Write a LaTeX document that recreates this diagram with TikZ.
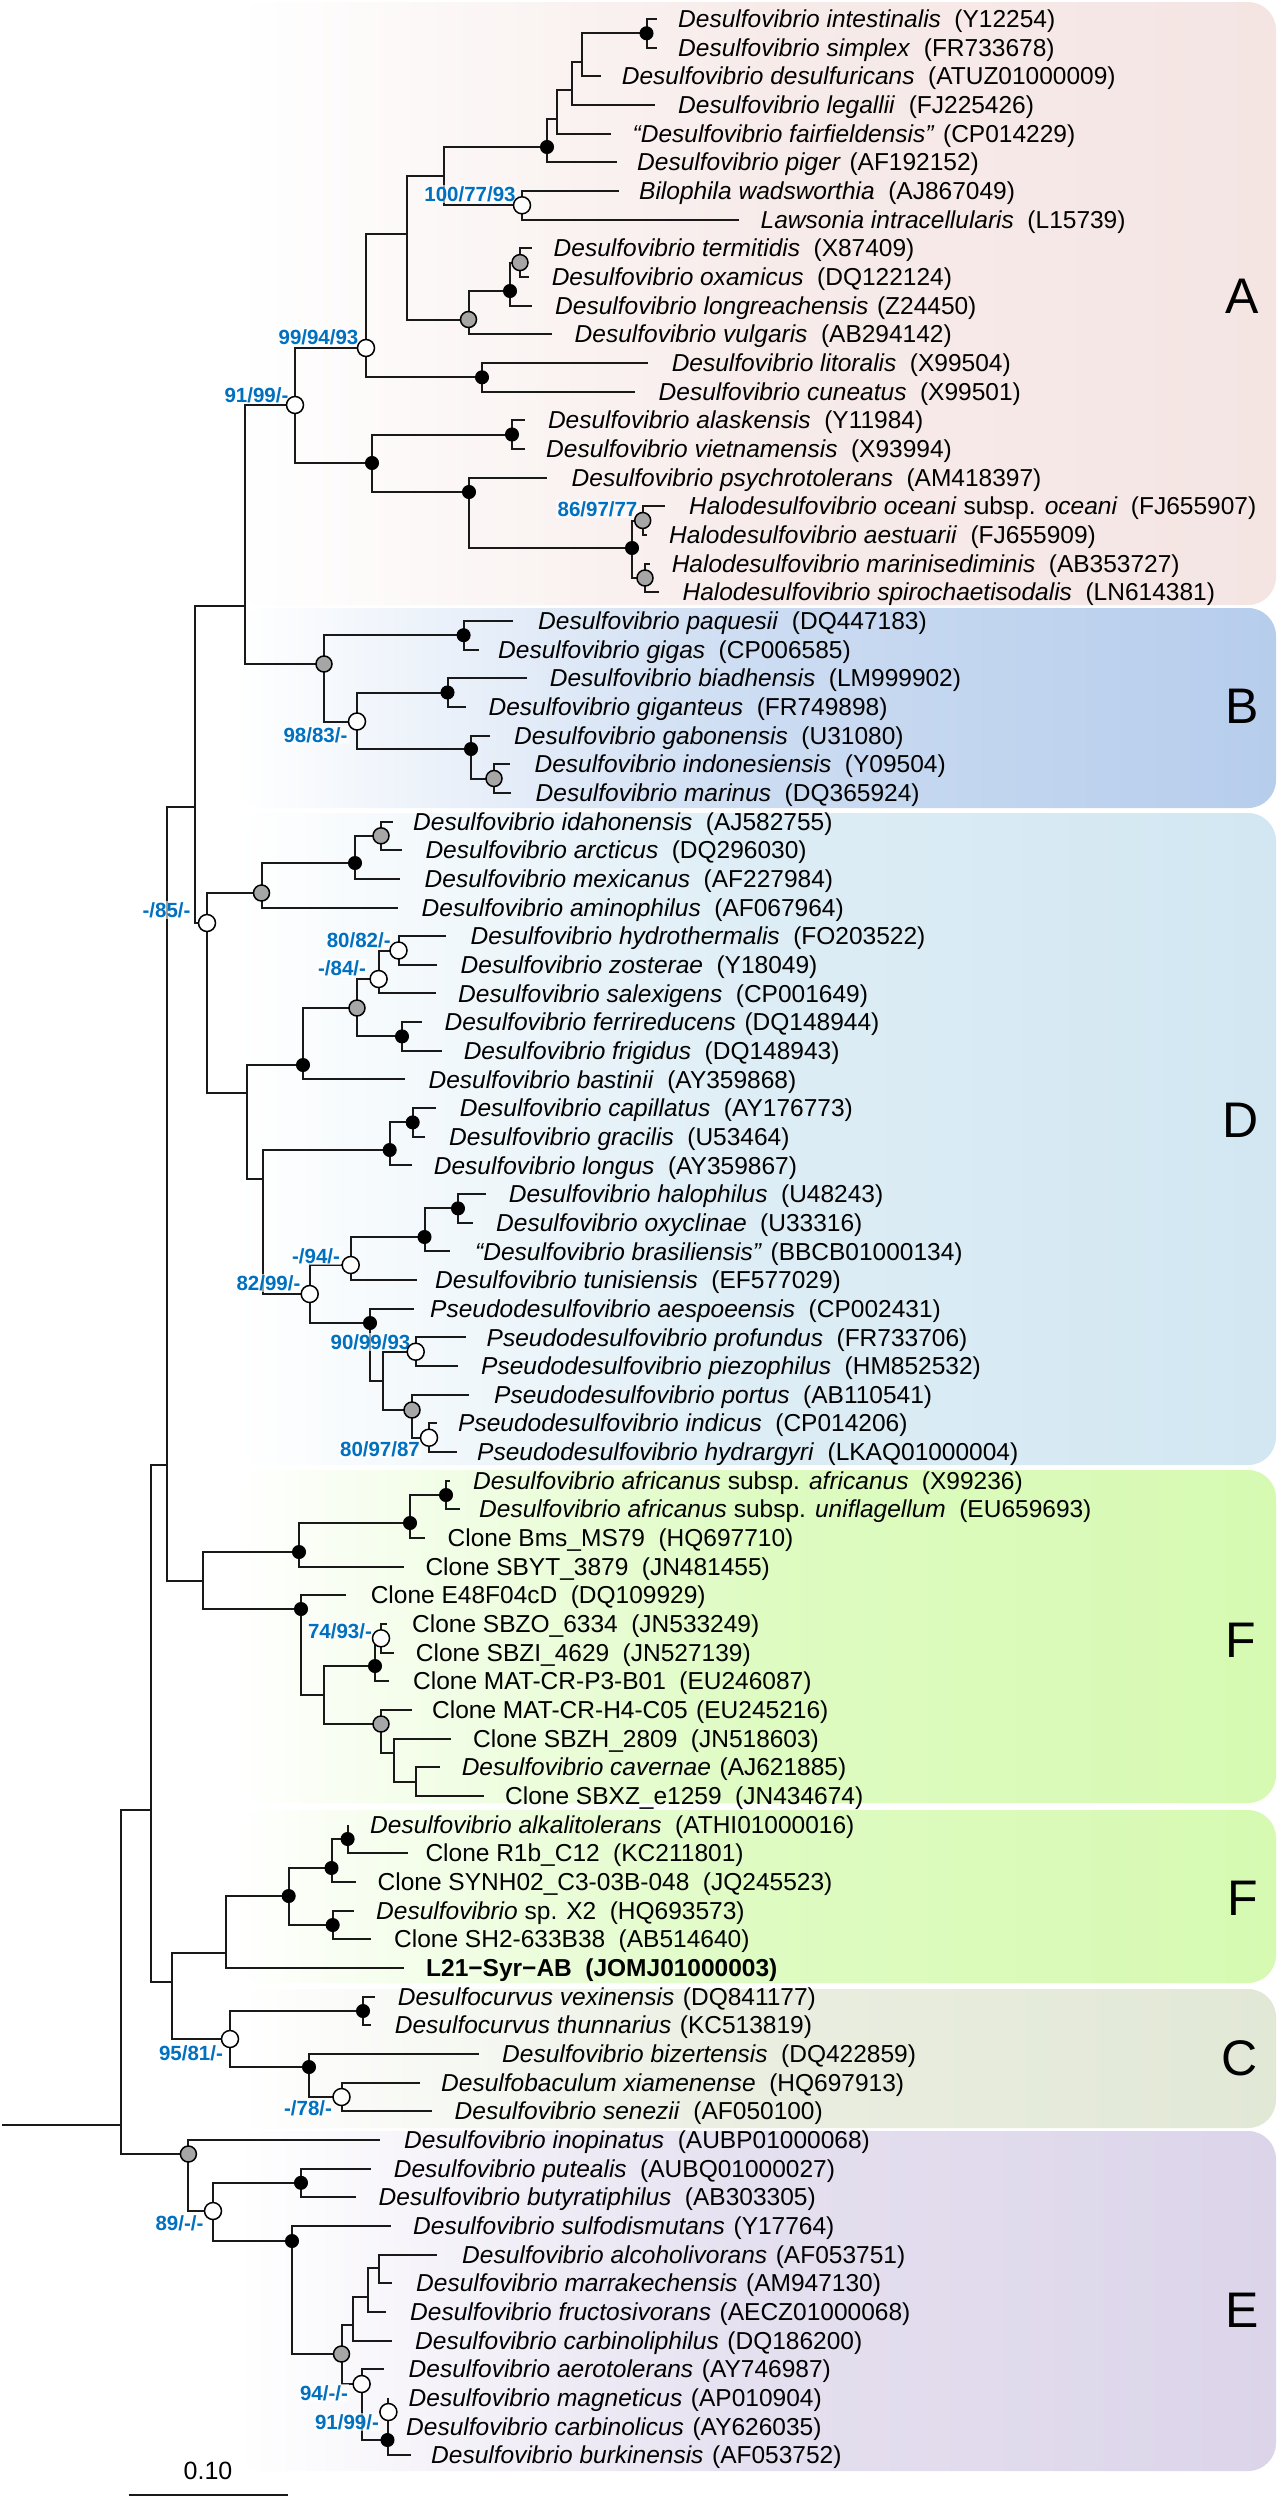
\documentclass[tikz,border=0pt]{standalone}
\usepackage{fontspec}
\setmainfont{Liberation Sans}
\definecolor{bsblue}{RGB}{0,112,192}
\definecolor{cA}{RGB}{244,229,227}
\definecolor{cB}{RGB}{182,205,236}
\definecolor{cD}{RGB}{210,231,242}
\definecolor{cF}{RGB}{214,250,178}
\definecolor{cC}{RGB}{226,232,214}
\definecolor{cE}{RGB}{220,213,234}
\definecolor{nodegrey}{RGB}{166,166,166}
\newcommand\tax[2]{\textit{#1}\hspace{.55em}(#2)}
\newcommand\taxs[2]{\textit{#1}\hspace{.35em}(#2)}
\newcommand\cln[2]{Clone #1\hspace{.55em}(#2)}
\begin{document}
\begin{tikzpicture}[x=1pt,y=-1pt,
  br/.style={draw=black!90, line width=2pt},
  blk/.style={circle, fill=black, draw=black, line width=1pt, minimum size=13pt, inner sep=0pt},
  gry/.style={circle, fill=nodegrey, draw=black, line width=1.5pt, minimum size=16pt, inner sep=0pt},
  wht/.style={circle, fill=white, draw=black, line width=1.5pt, minimum size=17pt, inner sep=0pt},
  lab/.style={anchor=base west, inner sep=0pt, yshift=-8.6pt, font=\fontsize{24.5}{28}\selectfont},
  bs/.style={anchor=center, inner sep=1.5pt, text height=15pt, text depth=0pt, fill=white, fill opacity=0.6, text opacity=1, text=bsblue, font=\fontsize{20.5}{24}\selectfont\bfseries},
  clade/.style={font=\fontsize{50}{56}\selectfont},
  box/.style={rounded corners=28pt},
]
\useasboundingbox (0,0) rectangle (1280,2500);
\fill[white] (0,0) rectangle (1280,2500);
% clade boxes
\shade[box, left color=white, right color=cA, middle color=cA!75!white] (236,2) rectangle (1276,605);
\shade[box, left color=white, right color=cB, middle color=cB!70!white] (236,608) rectangle (1276,808);
\shade[box, left color=white, right color=cD, middle color=cD!75!white] (236,813) rectangle (1276,1465);
\shade[box, left color=white, right color=cF, middle color=cF!80!white] (236,1470) rectangle (1276,1803);
\shade[box, left color=white, right color=cF, middle color=cF!80!white] (236,1810) rectangle (1276,1983);
\shade[box, left color=white, right color=cC, middle color=cC!75!white] (236,1989) rectangle (1276,2128);
\shade[box, left color=white, right color=cE, middle color=cE!75!white] (236,2131) rectangle (1276,2471);
\node[clade] (cla) at (1242,296) {A};
\node[clade] (clb) at (1242,706) {B};
\node[clade] (cld) at (1241,1120) {D};
\node[clade] (clf1) at (1241,1640) {F};
\node[clade] (clf2) at (1243,1898) {F};
\node[clade] (clc) at (1240,2058) {C};
\node[clade] (cle) at (1242,2310) {E};
% internal nodes
\coordinate (r0) at (2,2125);
\coordinate (root) at (121.4,2125);
\coordinate (nBig1) at (151,1810);
\coordinate (n167) at (167,1465);
\coordinate (n172) at (172,1982);
\coordinate (n194) at (194.5,807);
\coordinate (nF1) at (203,1581);
\coordinate (n245) at (245,606);
\coordinate (nD) at (207,923);
\coordinate (nA91) at (295,405);
\coordinate (nB) at (324,664);
\coordinate (nA99) at (366,348);
\coordinate (nA2) at (372,463);
\coordinate (n407) at (407,234);
\coordinate (nlit) at (482,377.3);
\coordinate (n444) at (444,176);
\coordinate (nvul) at (468.5,319.5);
\coordinate (npig) at (547,147);
\coordinate (nBil) at (522,205.3);
\coordinate (n557) at (557,119);
\coordinate (n572) at (572,90);
\coordinate (n582) at (582,62);
\coordinate (nint) at (646.5,33.3);
\coordinate (nlon) at (510,291);
\coordinate (nter) at (520,262.6);
\coordinate (nala) at (512,434.5);
\coordinate (npsy) at (469,492);
\coordinate (nHal) at (632,548);
\coordinate (nHo) at (642.7,520.5);
\coordinate (nHm) at (645,578);
\coordinate (npaq) at (463.6,635.2);
\coordinate (nB2) at (357,721.5);
\coordinate (nbia) at (447.5,692.5);
\coordinate (ngab) at (471,749);
\coordinate (nind) at (494,778.5);
\coordinate (nD1) at (261.5,893);
\coordinate (nmex) at (355,863);
\coordinate (nida) at (381,835.8);
\coordinate (nD2) at (247,1093);
\coordinate (nbas) at (303,1065);
\coordinate (nsal) at (357,1008);
\coordinate (n84) at (378.6,979);
\coordinate (n80) at (398.5,950.5);
\coordinate (nfer) at (402,1036.4);
\coordinate (nD3) at (262.6,1179);
\coordinate (ncap) at (389.7,1150);
\coordinate (ncg) at (412.7,1122.4);
\coordinate (n82) at (309.7,1294);
\coordinate (n94) at (350.7,1265);
\coordinate (nhal) at (424.5,1237);
\coordinate (nhalo) at (458,1208.4);
\coordinate (naes) at (370,1323);
\coordinate (n383) at (383,1381);
\coordinate (n90) at (415.7,1351.7);
\coordinate (nport) at (412,1410);
\coordinate (n80b) at (429,1437.7);
\coordinate (nsbyt) at (299,1552);
\coordinate (nbms) at (410,1523);
\coordinate (nafr) at (446,1495);
\coordinate (ne48) at (301,1609);
\coordinate (n324) at (324,1695);
\coordinate (nmat) at (375,1666);
\coordinate (n74) at (381,1638.3);
\coordinate (nh4) at (381,1724);
\coordinate (n394) at (394,1753);
\coordinate (n415) at (415.7,1781.6);
\coordinate (n226) at (226,1953);
\coordinate (nF2) at (288.7,1896);
\coordinate (nsyn) at (331.5,1868);
\coordinate (nalk) at (347.6,1839);
\coordinate (nx2) at (332.7,1925);
\coordinate (nC) at (230,2039);
\coordinate (nvex) at (363,2011);
\coordinate (nbiz) at (309,2067);
\coordinate (n78) at (341.5,2097);
\coordinate (nE) at (188.4,2154);
\coordinate (n89) at (213,2211);
\coordinate (nput) at (301,2182.8);
\coordinate (nsul) at (292,2241);
\coordinate (ngE) at (341.5,2354);
\coordinate (n352) at (352.7,2325);
\coordinate (n368) at (368,2297);
\coordinate (n378) at (378.6,2268);
\coordinate (n94E) at (361.6,2384);
\coordinate (nbur) at (387.5,2440);
\coordinate (n91E) at (388.4,2412);
% leaf tips
\coordinate (l1) at (657,19.0);
\coordinate (l2) at (657,47.7);
\coordinate (l3) at (600.6,76.3);
\coordinate (l4) at (655,105.0);
\coordinate (l5) at (611,133.6);
\coordinate (l6) at (617,162.3);
\coordinate (l7) at (618.6,191.0);
\coordinate (l8) at (739,219.6);
\coordinate (l9) at (532,248.3);
\coordinate (l10) at (529,276.9);
\coordinate (l11) at (532,305.6);
\coordinate (l12) at (551.6,334.3);
\coordinate (l13) at (648,362.9);
\coordinate (l14) at (635,391.6);
\coordinate (l15) at (525,420.2);
\coordinate (l16) at (525,448.9);
\coordinate (l17) at (547,477.6);
\coordinate (l18) at (664.5,506.2);
\coordinate (l19) at (647,534.9);
\coordinate (l20) at (649.5,563.5);
\coordinate (l21) at (659,592.2);
\coordinate (l22) at (512.5,620.9);
\coordinate (l23) at (479,649.5);
\coordinate (l24) at (527,678.2);
\coordinate (l25) at (465.5,706.8);
\coordinate (l26) at (490,735.5);
\coordinate (l27) at (509.5,764.2);
\coordinate (l28) at (511,792.8);
\coordinate (l29) at (393,821.5);
\coordinate (l30) at (401.6,850.1);
\coordinate (l31) at (400,878.8);
\coordinate (l32) at (398,907.5);
\coordinate (l33) at (446,936.1);
\coordinate (l34) at (437,964.8);
\coordinate (l35) at (436,993.4);
\coordinate (l36) at (421.5,1022.1);
\coordinate (l37) at (441.7,1050.8);
\coordinate (l38) at (405,1079.4);
\coordinate (l39) at (436,1108.1);
\coordinate (l40) at (424.5,1136.7);
\coordinate (l41) at (412,1165.4);
\coordinate (l42) at (486,1194.1);
\coordinate (l43) at (473,1222.7);
\coordinate (l44) at (450,1251.4);
\coordinate (l45) at (417,1280.0);
\coordinate (l46) at (414,1308.7);
\coordinate (l47) at (465.5,1337.4);
\coordinate (l48) at (458,1366.0);
\coordinate (l49) at (469,1394.7);
\coordinate (l50) at (437,1423.3);
\coordinate (l51) at (456.7,1452.0);
\coordinate (l52) at (450,1480.7);
\coordinate (l53) at (460,1509.3);
\coordinate (l54) at (424.5,1538.0);
\coordinate (l55) at (404,1566.6);
\coordinate (l56) at (345.7,1595.3);
\coordinate (l57) at (387,1624.0);
\coordinate (l58) at (394,1652.6);
\coordinate (l59) at (389,1681.3);
\coordinate (l60) at (412,1709.9);
\coordinate (l61) at (451,1738.6);
\coordinate (l62) at (440,1767.3);
\coordinate (l63) at (484,1795.9);
\coordinate (l64) at (347.6,1824.6);
\coordinate (l65) at (408,1853.2);
\coordinate (l66) at (355.6,1881.9);
\coordinate (l67) at (353.7,1910.6);
\coordinate (l68) at (371,1939.2);
\coordinate (l69) at (403.5,1967.9);
\coordinate (l70) at (375,1996.5);
\coordinate (l71) at (371,2025.2);
\coordinate (l72) at (478.5,2053.9);
\coordinate (l73) at (419.6,2082.5);
\coordinate (l74) at (432,2111.2);
\coordinate (l75) at (380,2139.8);
\coordinate (l76) at (371,2168.5);
\coordinate (l77) at (356,2197.2);
\coordinate (l78) at (390.6,2225.8);
\coordinate (l79) at (436.6,2254.5);
\coordinate (l80) at (392,2283.1);
\coordinate (l81) at (386,2311.8);
\coordinate (l82) at (391.5,2340.5);
\coordinate (l83) at (384,2369.1);
\coordinate (l84) at (388.4,2397.8);
\coordinate (l85) at (388.4,2426.4);
\coordinate (l86) at (410.7,2455.1);
% branches
\draw[br] (r0) -- (root);
\draw[br] (root) |- (nBig1) (root) |- (nE);
\draw[br] (nBig1) |- (n167) (nBig1) |- (n172);
\draw[br] (n167) |- (n194) (n167) |- (nF1);
\draw[br] (n194) |- (n245) (n194) |- (nD);
\draw[br] (n245) |- (nA91) (n245) |- (nB);
\draw[br] (nA91) |- (nA99) (nA91) |- (nA2);
\draw[br] (nA99) |- (n407) (nA99) |- (nlit);
\draw[br] (n407) |- (n444) (n407) |- (nvul);
\draw[br] (n444) |- (npig) (n444) |- (nBil);
\draw[br] (npig) |- (n557) (npig) |- (l6);
\draw[br] (n557) |- (n572) (n557) |- (l5);
\draw[br] (n572) |- (n582) (n572) |- (l4);
\draw[br] (n582) |- (nint) (n582) |- (l3);
\draw[br] (nint) |- (l1) (nint) |- (l2);
\draw[br] (nBil) |- (l7) (nBil) |- (l8);
\draw[br] (nvul) |- (nlon) (nvul) |- (l12);
\draw[br] (nlon) |- (nter) (nlon) |- (l11);
\draw[br] (nter) |- (l9) (nter) |- (l10);
\draw[br] (nlit) |- (l13) (nlit) |- (l14);
\draw[br] (nA2) |- (nala) (nA2) |- (npsy);
\draw[br] (nala) |- (l15) (nala) |- (l16);
\draw[br] (npsy) |- (l17) (npsy) |- (nHal);
\draw[br] (nHal) |- (nHo) (nHal) |- (nHm);
\draw[br] (nHo) |- (l18) (nHo) |- (l19);
\draw[br] (nHm) |- (l20) (nHm) |- (l21);
\draw[br] (nB) |- (npaq) (nB) |- (nB2);
\draw[br] (npaq) |- (l22) (npaq) |- (l23);
\draw[br] (nB2) |- (nbia) (nB2) |- (ngab);
\draw[br] (nbia) |- (l24) (nbia) |- (l25);
\draw[br] (ngab) |- (l26) (ngab) |- (nind);
\draw[br] (nind) |- (l27) (nind) |- (l28);
\draw[br] (nD) |- (nD1) (nD) |- (nD2);
\draw[br] (nD1) |- (nmex) (nD1) |- (l32);
\draw[br] (nmex) |- (nida) (nmex) |- (l31);
\draw[br] (nida) |- (l29) (nida) |- (l30);
\draw[br] (nD2) |- (nbas) (nD2) |- (nD3);
\draw[br] (nbas) |- (nsal) (nbas) |- (l38);
\draw[br] (nsal) |- (n84) (nsal) |- (nfer);
\draw[br] (n84) |- (n80) (n84) |- (l35);
\draw[br] (n80) |- (l33) (n80) |- (l34);
\draw[br] (nfer) |- (l36) (nfer) |- (l37);
\draw[br] (nD3) |- (ncap) (nD3) |- (n82);
\draw[br] (ncap) |- (ncg) (ncap) |- (l41);
\draw[br] (ncg) |- (l39) (ncg) |- (l40);
\draw[br] (n82) |- (n94) (n82) |- (naes);
\draw[br] (n94) |- (nhal) (n94) |- (l45);
\draw[br] (nhal) |- (nhalo) (nhal) |- (l44);
\draw[br] (nhalo) |- (l42) (nhalo) |- (l43);
\draw[br] (naes) |- (l46) (naes) |- (n383);
\draw[br] (n383) |- (n90) (n383) |- (nport);
\draw[br] (n90) |- (l47) (n90) |- (l48);
\draw[br] (nport) |- (l49) (nport) |- (n80b);
\draw[br] (n80b) |- (l50) (n80b) |- (l51);
\draw[br] (nF1) |- (nsbyt) (nF1) |- (ne48);
\draw[br] (nsbyt) |- (nbms) (nsbyt) |- (l55);
\draw[br] (nbms) |- (nafr) (nbms) |- (l54);
\draw[br] (nafr) |- (l52) (nafr) |- (l53);
\draw[br] (ne48) |- (l56) (ne48) |- (n324);
\draw[br] (n324) |- (nmat) (n324) |- (nh4);
\draw[br] (nmat) |- (n74) (nmat) |- (l59);
\draw[br] (n74) |- (l57) (n74) |- (l58);
\draw[br] (nh4) |- (l60) (nh4) |- (n394);
\draw[br] (n394) |- (l61) (n394) |- (n415);
\draw[br] (n415) |- (l62) (n415) |- (l63);
\draw[br] (n172) |- (n226) (n172) |- (nC);
\draw[br] (n226) |- (nF2) (n226) |- (l69);
\draw[br] (nF2) |- (nsyn) (nF2) |- (nx2);
\draw[br] (nsyn) |- (nalk) (nsyn) |- (l66);
\draw[br] (nalk) |- (l64) (nalk) |- (l65);
\draw[br] (nx2) |- (l67) (nx2) |- (l68);
\draw[br] (nC) |- (nvex) (nC) |- (nbiz);
\draw[br] (nvex) |- (l70) (nvex) |- (l71);
\draw[br] (nbiz) |- (l72) (nbiz) |- (n78);
\draw[br] (n78) |- (l73) (n78) |- (l74);
\draw[br] (nE) |- (l75) (nE) |- (n89);
\draw[br] (n89) |- (nput) (n89) |- (nsul);
\draw[br] (nput) |- (l76) (nput) |- (l77);
\draw[br] (nsul) |- (l78) (nsul) |- (ngE);
\draw[br] (ngE) |- (n352) (ngE) |- (n94E);
\draw[br] (n352) |- (n368) (n352) |- (l82);
\draw[br] (n368) |- (n378) (n368) |- (l81);
\draw[br] (n378) |- (l79) (n378) |- (l80);
\draw[br] (n94E) |- (l83) (n94E) |- (nbur);
\draw[br] (nbur) |- (n91E) (nbur) |- (l86);
\draw[br] (n91E) |- (l84) (n91E) |- (l85);
% bootstrap labels
\node[bs] (b1) at (470,194) {100/77/93};
\node[bs] (b2) at (318.5,337) {99/94/93};
\node[bs] (b3) at (256.5,395) {91/99/-};
\node[bs] (b4) at (597.5,509) {86/97/77};
\node[bs] (b5) at (315.5,735) {98/83/-};
\node[bs] (b6) at (166.5,910) {-/85/-};
\node[bs] (b7) at (358.7,940) {80/82/-};
\node[bs] (b8) at (342,968) {-/84/-};
\node[bs] (b9) at (316,1256) {-/94/-};
\node[bs] (b10) at (268.5,1283) {82/99/-};
\node[bs] (b11) at (370.5,1342) {90/99/93};
\node[bs] (b12) at (380,1449) {80/97/87};
\node[bs] (b13) at (340,1631) {74/93/-};
\node[bs] (b14) at (191,2053) {95/81/-};
\node[bs] (b15) at (308,2108) {-/78/-};
\node[bs] (b16) at (179.5,2223) {89/-/-};
\node[bs] (b17) at (324,2393) {94/-/-};
\node[bs] (b18) at (347,2422) {91/99/-};
% node circles
\foreach \n in {nint,npig,nlon,nlit,nA2,nala,npsy,nHal,npaq,nbia,ngab,nmex,nbas,nfer,ncap,ncg,nhal,nhalo,naes,nsbyt,nbms,nafr,ne48,nmat,nF2,nsyn,nalk,nx2,nvex,nbiz,nput,nsul,nbur}
  \node[blk] at (\n) {};
\foreach \n in {nvul,nter,nHo,nHm,nB,nind,nD1,nida,nsal,nport,nh4,nE,ngE}
  \node[gry] at (\n) {};
\foreach \n in {nBil,nA99,nA91,nB2,nD,n84,n80,n82,n94,n90,n80b,n74,nC,n78,n89,n94E,n91E}
  \node[wht] at (\n) {};
% leaf labels
\node[lab] (t1) at (678,19.0) {\tax{Desulfovibrio intestinalis}{Y12254}};
\node[lab] (t2) at (678,47.7) {\tax{Desulfovibrio simplex}{FR733678}};
\node[lab] (t3) at (621.7,76.3) {\tax{Desulfovibrio desulfuricans}{ATUZ01000009}};
\node[lab] (t4) at (678,105.0) {\tax{Desulfovibrio legallii}{FJ225426}};
\node[lab] (t5) at (632.5,133.6) {\taxs{“Desulfovibrio fairfieldensis”}{CP014229}};
\node[lab] (t6) at (637,162.3) {\taxs{Desulfovibrio piger}{AF192152}};
\node[lab] (t7) at (639,191.0) {\tax{Bilophila wadsworthia}{AJ867049}};
\node[lab] (t8) at (760.5,219.6) {\tax{Lawsonia intracellularis}{L15739}};
\node[lab] (t9) at (553.5,248.3) {\tax{Desulfovibrio termitidis}{X87409}};
\node[lab] (t10) at (551.6,276.9) {\tax{Desulfovibrio oxamicus}{DQ122124}};
\node[lab] (t11) at (555,305.6) {\taxs{Desulfovibrio longreachensis}{Z24450}};
\node[lab] (t12) at (574.5,334.3) {\tax{Desulfovibrio vulgaris}{AB294142}};
\node[lab] (t13) at (671.6,362.9) {\tax{Desulfovibrio litoralis}{X99504}};
\node[lab] (t14) at (658.5,391.6) {\tax{Desulfovibrio cuneatus}{X99501}};
\node[lab] (t15) at (547.8,420.2) {\tax{Desulfovibrio alaskensis}{Y11984}};
\node[lab] (t16) at (546,448.9) {\tax{Desulfovibrio vietnamensis}{X93994}};
\node[lab] (t17) at (571.5,477.6) {\tax{Desulfovibrio psychrotolerans}{AM418397}};
\node[lab] (t18) at (689,506.2) {\textit{Halodesulfovibrio oceani} subsp. \textit{oceani}\hspace{.55em}(FJ655907)};
\node[lab] (t19) at (669,534.9) {\tax{Halodesulfovibrio aestuarii}{FJ655909}};
\node[lab] (t20) at (671.6,563.5) {\tax{Halodesulfovibrio marinisediminis}{AB353727}};
\node[lab] (t21) at (682.4,592.2) {\tax{Halodesulfovibrio spirochaetisodalis}{LN614381}};
\node[lab] (t22) at (538,620.9) {\tax{Desulfovibrio paquesii}{DQ447183}};
\node[lab] (t23) at (498,649.5) {\tax{Desulfovibrio gigas}{CP006585}};
\node[lab] (t24) at (549.7,678.2) {\tax{Desulfovibrio biadhensis}{LM999902}};
\node[lab] (t25) at (488.4,706.8) {\tax{Desulfovibrio giganteus}{FR749898}};
\node[lab] (t26) at (514,735.5) {\tax{Desulfovibrio gabonensis}{U31080}};
\node[lab] (t27) at (534.4,764.2) {\tax{Desulfovibrio indonesiensis}{Y09504}};
\node[lab] (t28) at (535.5,792.8) {\tax{Desulfovibrio marinus}{DQ365924}};
\node[lab] (t29) at (413,821.5) {\tax{Desulfovibrio idahonensis}{AJ582755}};
\node[lab] (t30) at (425.3,850.1) {\tax{Desulfovibrio arcticus}{DQ296030}};
\node[lab] (t31) at (424.5,878.8) {\tax{Desulfovibrio mexicanus}{AF227984}};
\node[lab] (t32) at (421.5,907.5) {\tax{Desulfovibrio aminophilus}{AF067964}};
\node[lab] (t33) at (470.5,936.1) {\tax{Desulfovibrio hydrothermalis}{FO203522}};
\node[lab] (t34) at (460.5,964.8) {\tax{Desulfovibrio zosterae}{Y18049}};
\node[lab] (t35) at (458,993.4) {\tax{Desulfovibrio salexigens}{CP001649}};
\node[lab] (t36) at (444.4,1022.1) {\taxs{Desulfovibrio ferrireducens}{DQ148944}};
\node[lab] (t37) at (463.6,1050.8) {\tax{Desulfovibrio frigidus}{DQ148943}};
\node[lab] (t38) at (428.4,1079.4) {\tax{Desulfovibrio bastinii}{AY359868}};
\node[lab] (t39) at (459.7,1108.1) {\tax{Desulfovibrio capillatus}{AY176773}};
\node[lab] (t40) at (449,1136.7) {\tax{Desulfovibrio gracilis}{U53464}};
\node[lab] (t41) at (433.7,1165.4) {\tax{Desulfovibrio longus}{AY359867}};
\node[lab] (t42) at (508.7,1194.1) {\tax{Desulfovibrio halophilus}{U48243}};
\node[lab] (t43) at (496,1222.7) {\tax{Desulfovibrio oxyclinae}{U33316}};
\node[lab] (t44) at (475,1251.4) {\taxs{“Desulfovibrio brasiliensis”}{BBCB01000134}};
\node[lab] (t45) at (435,1280.0) {\tax{Desulfovibrio tunisiensis}{EF577029}};
\node[lab] (t46) at (430,1308.7) {\tax{Pseudodesulfovibrio aespoeensis}{CP002431}};
\node[lab] (t47) at (486.5,1337.4) {\tax{Pseudodesulfovibrio profundus}{FR733706}};
\node[lab] (t48) at (481,1366.0) {\tax{Pseudodesulfovibrio piezophilus}{HM852532}};
\node[lab] (t49) at (494,1394.7) {\tax{Pseudodesulfovibrio portus}{AB110541}};
\node[lab] (t50) at (458,1423.3) {\tax{Pseudodesulfovibrio indicus}{CP014206}};
\node[lab] (t51) at (477,1452.0) {\tax{Pseudodesulfovibrio hydrargyri}{LKAQ01000004}};
\node[lab] (t52) at (473,1480.7) {\textit{Desulfovibrio africanus} subsp. \textit{africanus}\hspace{.55em}(X99236)};
\node[lab] (t53) at (479,1509.3) {\textit{Desulfovibrio africanus} subsp. \textit{uniflagellum}\hspace{.55em}(EU659693)};
\node[lab] (t54) at (447.5,1538.0) {\cln{Bms\_MS79}{HQ697710}};
\node[lab] (t55) at (425.3,1566.6) {\cln{SBYT\_3879}{JN481455}};
\node[lab] (t56) at (370.6,1595.3) {\cln{E48F04cD}{DQ109929}};
\node[lab] (t57) at (412,1624.0) {\cln{SBZO\_6334}{JN533249}};
\node[lab] (t58) at (415.7,1652.6) {\cln{SBZI\_4629}{JN527139}};
\node[lab] (t59) at (413,1681.3) {\cln{MAT-CR-P3-B01}{EU246087}};
\node[lab] (t60) at (432,1709.9) {Clone MAT-CR-H4-C05\hspace{.35em}(EU245216)};
\node[lab] (t61) at (473,1738.6) {\cln{SBZH\_2809}{JN518603}};
\node[lab] (t62) at (461.6,1767.3) {\taxs{Desulfovibrio cavernae}{AJ621885}};
\node[lab] (t63) at (505,1795.9) {\cln{SBXZ\_e1259}{JN434674}};
\node[lab] (t64) at (370,1824.6) {\tax{Desulfovibrio alkalitolerans}{ATHI01000016}};
\node[lab] (t65) at (425.3,1853.2) {\cln{R1b\_C12}{KC211801}};
\node[lab] (t66) at (377.5,1881.9) {\cln{SYNH02\_C3-03B-048}{JQ245523}};
\node[lab] (t67) at (376,1910.6) {\textit{Desulfovibrio} sp. X2\hspace{.55em}(HQ693573)};
\node[lab] (t68) at (394,1939.2) {\cln{SH2-633B38}{AB514640}};
\node[lab] (t69) at (426,1967.9) {\bfseries L21−Syr−AB\hspace{.55em}(JOMJ01000003)};
\node[lab] (t70) at (397.7,1996.5) {\taxs{Desulfocurvus vexinensis}{DQ841177}};
\node[lab] (t71) at (394.7,2025.2) {\taxs{Desulfocurvus thunnarius}{KC513819}};
\node[lab] (t72) at (502,2053.9) {\tax{Desulfovibrio bizertensis}{DQ422859}};
\node[lab] (t73) at (441,2082.5) {\tax{Desulfobaculum xiamenense}{HQ697913}};
\node[lab] (t74) at (454.5,2111.2) {\tax{Desulfovibrio senezii}{AF050100}};
\node[lab] (t75) at (404,2139.8) {\tax{Desulfovibrio inopinatus}{AUBP01000068}};
\node[lab] (t76) at (393.7,2168.5) {\tax{Desulfovibrio putealis}{AUBQ01000027}};
\node[lab] (t77) at (378.5,2197.2) {\tax{Desulfovibrio butyratiphilus}{AB303305}};
\node[lab] (t78) at (413,2225.8) {\taxs{Desulfovibrio sulfodismutans}{Y17764}};
\node[lab] (t79) at (462,2254.5) {\taxs{Desulfovibrio alcoholivorans}{AF053751}};
\node[lab] (t80) at (416,2283.1) {\taxs{Desulfovibrio marrakechensis}{AM947130}};
\node[lab] (t81) at (410,2311.8) {\taxs{Desulfovibrio fructosivorans}{AECZ01000068}};
\node[lab] (t82) at (415,2340.5) {\taxs{Desulfovibrio carbinoliphilus}{DQ186200}};
\node[lab] (t83) at (408.5,2369.1) {\taxs{Desulfovibrio aerotolerans}{AY746987}};
\node[lab] (t84) at (408.5,2397.8) {\taxs{Desulfovibrio magneticus}{AP010904}};
\node[lab] (t85) at (406,2426.4) {\taxs{Desulfovibrio carbinolicus}{AY626035}};
\node[lab] (t86) at (431,2455.1) {\taxs{Desulfovibrio burkinensis}{AF053752}};
% scale bar
\coordinate (sb1) at (128.6,2495);
\coordinate (sb2) at (288,2495);
\draw[line width=2pt, black!90] (sb1) -- (sb2);
\node[font=\fontsize{25}{28}\selectfont, inner sep=0pt] (sbt) at (208,2471) {0.10};
\end{tikzpicture}
\end{document}
